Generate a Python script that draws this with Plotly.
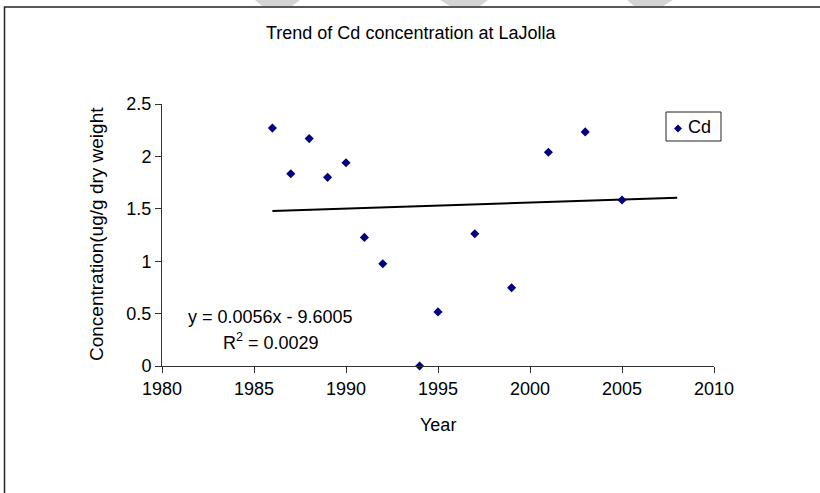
import plotly.graph_objects as go

# ---- data ----
years = [1986, 1987, 1988, 1989, 1990, 1991, 1992, 1994, 1995, 1997, 1999, 2001, 2003, 2005]
cd = [2.27, 1.835, 2.17, 1.80, 1.94, 1.227, 0.975, 0.0, 0.516, 1.262, 0.746, 2.04, 2.234, 1.584]
trend_x = [1986, 2008]
trend_y = [1.478, 1.606]
x_ticks = [1980, 1985, 1990, 1995, 2000, 2005, 2010]
y_ticks = [0, 0.5, 1, 1.5, 2, 2.5]
y_tick_labels = ["0", "0.5", "1", "1.5", "2", "2.5"]
chart_title = "Trend of Cd concentration at LaJolla"
x_title = "Year"
y_title = "Concentration(ug/g dry weight"
eq_text = "y = 0.0056x - 9.6005"
r2_text = "R<sup>2</sup> = 0.0029"
series_name = "Cd"

W, H = 820, 493
L, R, T, B = 162, 106, 104, 127
PW, PH = W - L - R, H - T - B


def px(x):
    return (x - L) / PW


def py(y):
    return (H - B - y) / PH


FONT = "Liberation Sans, Arial, sans-serif"
NAVY = "#000080"

fig = go.Figure()
fig.add_trace(go.Scatter(x=trend_x, y=trend_y, mode="lines",
                         line=dict(color="black", width=2), showlegend=False,
                         hoverinfo="skip"))
fig.add_trace(go.Scatter(x=years, y=cd, mode="markers", name=series_name,
                         marker=dict(symbol="diamond", size=7, color=NAVY),
                         showlegend=False, cliponaxis=False))


def ann(text, x, y, size=18, **kw):
    d = dict(text=text, x=px(x), y=py(y), xref="paper", yref="paper",
             xanchor="center", yanchor="middle", showarrow=False,
             font=dict(size=size, color="black", family=FONT))
    d.update(kw)
    return d


annotations = [
    ann(chart_title, 411, 33),
    ann(x_title, 438, 425),
    ann(y_title, 96, 234, size=19, textangle=-90),
    ann(eq_text, 270, 317),
    ann(r2_text, 271, 341),
    ann(series_name, 686, 127, xanchor="left"),
]


def diamond(cx, cy, r):
    return (f"M {px(cx)} {py(cy - r)} L {px(cx + r)} {py(cy)} "
            f"L {px(cx)} {py(cy + r)} L {px(cx - r)} {py(cy)} Z")


def trap(x0t, x1t, x0b, x1b, yt, yb):
    return (f"M {px(x0t)} {py(yt)} L {px(x1t)} {py(yt)} "
            f"L {px(x1b)} {py(yb)} L {px(x0b)} {py(yb)} Z")


shapes = [
    # outer chart frame (extends past the right and bottom edges)
    dict(type="rect", xref="paper", yref="paper", x0=px(4.5), x1=px(830),
         y0=py(505), y1=py(7), line=dict(color="#222222", width=1.5)),
    # legend box
    dict(type="rect", xref="paper", yref="paper", x0=px(666), x1=px(721),
         y0=py(141), y1=py(112), line=dict(color="#222222", width=1),
         fillcolor="white"),
    dict(type="path", xref="paper", yref="paper", path=diamond(678, 128.5, 4),
         fillcolor=NAVY, line=dict(width=0)),
    # faint watermark fragments at the top edge
    dict(type="path", xref="paper", yref="paper", path=trap(255, 300, 262, 292, 0, 6),
         fillcolor="#d4d4d4", line=dict(width=0), layer="below"),
    dict(type="path", xref="paper", yref="paper", path=trap(440, 488, 450, 480, 0, 6),
         fillcolor="#d4d4d4", line=dict(width=0), layer="below"),
    dict(type="path", xref="paper", yref="paper", path=trap(627, 673, 634, 663, 0, 6),
         fillcolor="#d4d4d4", line=dict(width=0), layer="below"),
]

axis_common = dict(showgrid=False, zeroline=False, showline=True, linecolor="#333333",
                   linewidth=1, ticks="outside", tickcolor="#333333", ticklen=6,
                   tickfont=dict(size=18, color="black", family=FONT))

fig.update_layout(
    width=W, height=H,
    margin=dict(l=L, r=R, t=T, b=B, autoexpand=False),
    paper_bgcolor="white", plot_bgcolor="white",
    xaxis=dict(range=[1980, 2010], tickvals=x_ticks, **axis_common),
    yaxis=dict(range=[0, 2.5], tickvals=y_ticks, ticktext=y_tick_labels, **axis_common),
    annotations=annotations,
    shapes=shapes,
    showlegend=False,
)

fig.write_html("out.html", config={"displayModeBar": False},
               post_script="document.body.style.margin='0';")
